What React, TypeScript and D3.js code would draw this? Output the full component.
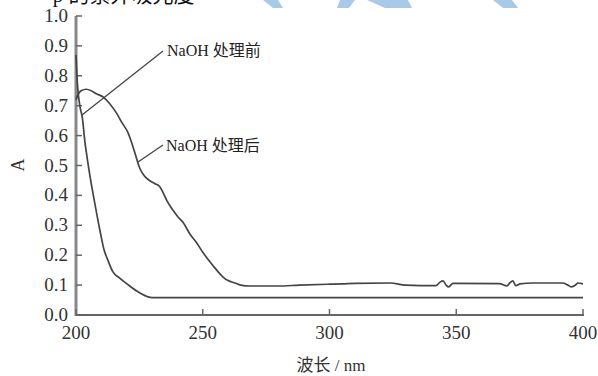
import React from "react";
import * as d3 from "d3";

const xTicks = [200, 250, 300, 350, 400];
const yTicks = [0.0, 0.1, 0.2, 0.3, 0.4, 0.5, 0.6, 0.7, 0.8, 0.9, 1.0];

const beforeX = [200, 200.5, 201.5, 202.5, 203.5, 204.5, 205.9, 207.5, 209.5, 211, 212.5, 214.5, 217, 220, 224, 228, 230, 260, 300, 400];
const beforeY = [0.87, 0.78, 0.7, 0.66, 0.58, 0.52, 0.445, 0.37, 0.28, 0.22, 0.185, 0.145, 0.125, 0.105, 0.08, 0.062, 0.058, 0.058, 0.058, 0.058];

const afterX = [200, 201, 202, 204, 206, 208, 210.6, 213, 216, 218, 220.5, 222, 223.3, 225.2, 227, 229, 231, 233, 234.3, 236, 238.3, 240, 242.2, 245, 247.7, 250, 252.9, 255, 258, 260, 262.7, 265, 268.6, 280, 288, 300, 305, 310, 324, 330, 342, 343.6, 344.8, 346, 347, 348.7, 367, 370, 371.2, 372.3, 373.5, 375.2, 380, 392, 394, 395.5, 397, 398, 400];
const afterY = [0.72, 0.74, 0.75, 0.755, 0.75, 0.74, 0.73, 0.71, 0.675, 0.645, 0.61, 0.575, 0.54, 0.49, 0.465, 0.45, 0.44, 0.43, 0.41, 0.38, 0.35, 0.33, 0.31, 0.27, 0.24, 0.21, 0.177, 0.155, 0.127, 0.115, 0.107, 0.1, 0.097, 0.097, 0.1, 0.103, 0.104, 0.106, 0.107, 0.1, 0.098, 0.11, 0.114, 0.1, 0.094, 0.106, 0.105, 0.097, 0.108, 0.114, 0.098, 0.104, 0.107, 0.107, 0.1, 0.094, 0.1, 0.107, 0.104];

const labelBefore = "NaOH 处理前";
const labelAfter = "NaOH 处理后";
const xTitle = "波长 / nm";
const yTitle = "A";

export default function App() {
  const W = 598, H = 376;
  const x = d3.scaleLinear().domain([200, 400]).range([76, 583]);
  const y = d3.scaleLinear().domain([0, 1]).range([315, 16]);
  const line = d3.line<[number, number]>().x(d => x(d[0])).y(d => y(d[1])).curve(d3.curveMonotoneX);
  const before = line(beforeX.map((v, i) => [v, beforeY[i]]) as [number, number][]) || "";
  const after = line(afterX.map((v, i) => [v, afterY[i]]) as [number, number][]) || "";
  const font = "'Liberation Serif', 'Times New Roman', serif";
  const cjk = "'Liberation Serif', 'Noto Sans CJK SC', serif";
  return (
    <svg width={W} height={H} style={{ position: "absolute", left: 0, top: 0, background: "#fff" }}>
      {/* watermark fragments */}
      <g fill="#a9c9e8">
        <polygon points="263,0 278,0 283,8 273,8" />
        <polygon points="340,0 355,0 349,8 337,8" />
        <polygon points="367,0 408,0 412,8 385,8" />
        <polygon points="493,0 512,0 518,8 503,8" />
      </g>
      {/* clipped title */}
      <text x={2} y={2} fontFamily={cjk} fontSize={21} fill="#111">— · ·  p  的紫外吸光度</text>

      {/* axes */}
      <line x1={x(200)} x2={x(200)} y1={y(1)} y2={y(0) + 1} stroke="#888" strokeWidth={3} />
      <line x1={x(200)} x2={x(400) + 1} y1={y(0)} y2={y(0)} stroke="#666" strokeWidth={2} />
      {yTicks.map(t => (
        <g key={"y" + t}>
          <line x1={x(200)} x2={x(200) + 6} y1={y(t)} y2={y(t)} stroke="#666" strokeWidth={1.5} />
          <text x={68} y={y(t) + 6} textAnchor="end" fontFamily={font} fontSize={19} fill="#333">{t.toFixed(1)}</text>
        </g>
      ))}
      {xTicks.map(t => (
        <g key={"x" + t}>
          <line x1={x(t)} x2={x(t)} y1={y(0)} y2={y(0) - 6} stroke="#666" strokeWidth={1.5} />
          <text x={x(t)} y={339} textAnchor="middle" fontFamily={font} fontSize={19} fill="#333">{t}</text>
        </g>
      ))}
      <text x={331} y={371} textAnchor="middle" fontFamily={cjk} fontSize={17} fill="#333">{xTitle}</text>
      <text transform={`translate(24,165) rotate(-90)`} textAnchor="middle" fontFamily={font} fontSize={18} fill="#333">{yTitle}</text>

      {/* curves */}
      <path d={before} fill="none" stroke="#444" strokeWidth={1.7} />
      <path d={after} fill="none" stroke="#444" strokeWidth={1.7} />

      {/* annotations */}
      <line x1={82} y1={115} x2={163} y2={51} stroke="#444" strokeWidth={1.3} />
      <text x={167} y={56} fontFamily={cjk} fontSize={16} fill="#222">{labelBefore}</text>
      <line x1={138} y1={162} x2={163} y2={145} stroke="#444" strokeWidth={1.3} />
      <text x={166} y={151} fontFamily={cjk} fontSize={16} fill="#222">{labelAfter}</text>
    </svg>
  );
}
